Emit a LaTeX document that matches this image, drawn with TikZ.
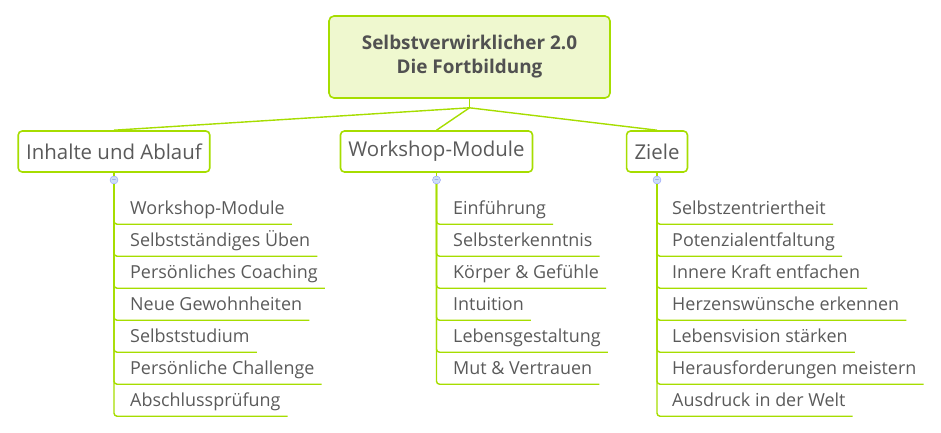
\documentclass[tikz,border=0pt]{standalone}
\usepackage{fontspec}
\setmainfont{Open Sans}
\usetikzlibrary{positioning}
\definecolor{branchgreen}{HTML}{A6DD00}
\definecolor{rootfill}{HTML}{EFF8CF}
\definecolor{txtgray}{HTML}{5A5A5A}
\definecolor{foldblue}{HTML}{CCDDF8}
\begin{document}
\begin{tikzpicture}[x=1bp, y=-1bp,
    topic/.style ={draw=branchgreen, line width=1.6bp, rounded corners=5bp,
                   fill=rootfill, align=center, text=txtgray!90!black,
                   font=\bfseries\fontsize{19}{24}\selectfont,
                   minimum width=281bp, minimum height=82bp},
    sub/.style   ={draw=branchgreen, line width=1.6bp, rounded corners=4bp,
                   fill=white, text=txtgray, inner xsep=8bp,
                   font=\fontsize{20.5}{24}\selectfont, minimum height=41bp},
    leaf/.style  ={anchor=west, text=txtgray, inner xsep=7bp, inner ysep=6bp,
                   text height=12bp, text depth=4bp,
                   font=\fontsize{18}{20}\selectfont},
    fold/.style  ={circle, draw=foldblue!70!blue, fill=foldblue, inner sep=0pt,
                   minimum size=8bp, font=\tiny, text=blue!60!gray},
    branch/.style={draw=branchgreen, line width=1.4bp},
]
\useasboundingbox (0,0) rectangle (941,432);
\node[topic] (root) at (469.5,57) {Selbstverwirklicher 2.0\\Die Fortbildung};
\node[sub] (inh) at (114,151.5) {Inhalte und Ablauf};
\node[sub] (ws)  at (436.5,151.5) {Workshop-Module};
\node[sub] (zl)  at (657,151.5) {Ziele};
\node[fold, below=3bp of inh] (inhfold) {$-$};
\node[fold, below=3bp of ws]  (wsfold)  {$-$};
\node[fold, below=3bp of zl]  (zlfold)  {$-$};
% root to main topics
\draw[branch] (root.south) -- ++(0,9) coordinate (hub);
\draw[branch] (hub) -- (inh.north);
\draw[branch] (hub) -- (ws.north);
\draw[branch] (hub) -- (zl.north);
\draw[branch] (inh.south) -- (inhfold);
\draw[branch] (ws.south)  -- (wsfold);
\draw[branch] (zl.south)  -- (zlfold);
% leaves
\foreach \t [count=\i] in {Workshop-Module, Selbstständiges Üben, Persönliches Coaching,
    Neue Gewohnheiten, Selbststudium, Persönliche Challenge, Abschlussprüfung}
  \node[leaf] (inh\i) at (123,178+32*\i) {\t};
\foreach \t [count=\i] in {Einführung, Selbsterkenntnis, Körper \& Gefühle,
    Intuition, Lebensgestaltung, Mut \& Vertrauen}
  \node[leaf] (ws\i) at (446,178+32*\i) {\t};
\foreach \t [count=\i] in {Selbstzentriertheit, Potenzialentfaltung, Innere Kraft entfachen,
    Herzenswünsche erkennen, Lebensvision stärken, Herausforderungen meistern,
    Ausdruck in der Welt}
  \node[leaf] (zl\i) at (665,178+32*\i) {\t};
\foreach \i in {1,...,7}
  \draw[branch, rounded corners=3bp] (inhfold.south) |- (inh\i.south east);
\foreach \i in {1,...,6}
  \draw[branch, rounded corners=3bp] (wsfold.south) |- (ws\i.south east);
\foreach \i in {1,...,7}
  \draw[branch, rounded corners=3bp] (zlfold.south) |- (zl\i.south east);
\end{tikzpicture}
\end{document}
